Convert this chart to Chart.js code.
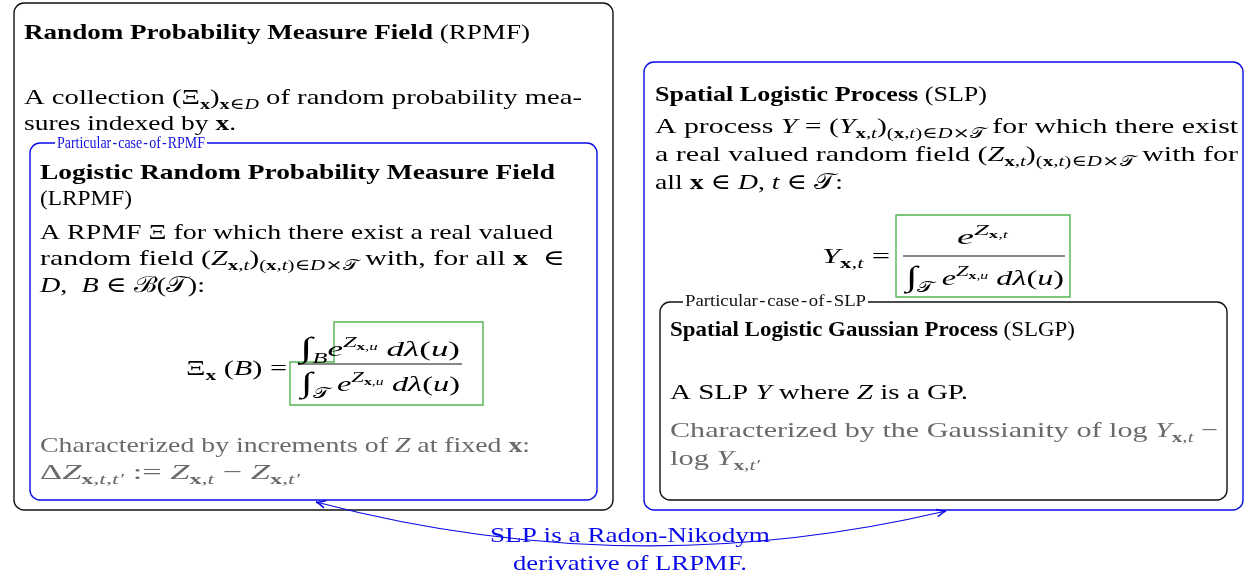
<!DOCTYPE html>
<html><head><meta charset="utf-8">
<script src="https://cdn.jsdelivr.net/npm/chart.js@4.4.0/dist/chart.umd.min.js"></script>
<style>html,body{margin:0;padding:0;background:#fff;overflow:hidden}canvas{display:block}</style>
</head><body>
<canvas id="c" width="1246" height="578"></canvas>
<script>
// ---- text segment helpers ----
const R = t => ({t, f:'r'});
const B = t => ({t, f:'b'});
const I = t => ({t, f:'i'});
const S = t => ({t, f:'s'});
const CT = {t:'𝒯', f:'r'};
const INT = {t:'∫', f:'r', k:1.3, dy:0.06};
const flat = a => a.flat(Infinity);
const sub = (...s) => flat(s).map(g => ({...g, k:0.7*(g.k||1), dy:0.22 + 0.7*(g.dy||0)}));
const subL = (...s) => flat(s).map(g => ({...g, k:0.7*(g.k||1), dy:0.34 + 0.7*(g.dy||0)}));
const sup = (...s) => flat(s).map(g => ({...g, k:0.7*(g.k||1), dy:-0.42 + 0.7*(g.dy||0)}));
const XT = [B('x'), R(','), I('t')];
const XU = [B('x'), R(','), I('u')];
const IDX = [R('('), B('x'), R(','), I('t'), R(')'), S('∈'), I('D'), S('×'), CT];
const EZ = [I('e'), sup(I('Z'), sub(XU))];

// ---- text content ----
const rpmfTitle = [B('Random Probability Measure Field'), R(' (RPMF)')];
const rpmfBody = [
  [R('A collection '), R('('), R('Ξ'), sub(B('x')), R(')'), sub(B('x'), S('∈'), I('D')), R(' of random probability mea-')],
  [R('sures indexed by '), B('x'), R('.')]
];
const lrpmfLabel = 'Particular\u200A-\u200Acase\u200A-\u200Aof\u200A-\u200ARPMF';
const lrpmfTitle = [[B('Logistic Random Probability Measure Field')], [R('(LRPMF)')]];
const lrpmfBody = [
  [R('A RPMF '), R('Ξ'), R(' for which there exist a real valued')],
  [R('random field '), R('('), I('Z'), sub(XT), R(')'), sub(IDX), R(' with, for all '), B('x'), R('  '), S('∈')],
  [I('D'), R(',  '), I('B'), R(' '), S('∈'), R(' '), R('ℬ'), R('('), CT, R('):')]
];
const lrpmfLhs = [R('Ξ'), sub(B('x')), R(' ('), I('B'), R(') =')];
const lrpmfNum = [INT, subL(I('B')), EZ, R(' '), I('d'), I('λ'), R('('), I('u'), R(')')];
const lrpmfDen = [INT, subL(CT), R(' '), EZ, R(' '), I('d'), I('λ'), R('('), I('u'), R(')')];
const lrpmfGray = [
  [R('Characterized by increments of '), I('Z'), R(' at fixed '), B('x'), R(':')],
  [R('Δ'), I('Z'), sub(B('x'), R(','), I('t'), R(','), I('t′')), R(' := '), I('Z'), sub(XT), R(' − '), I('Z'), sub(B('x'), R(','), I('t′'))]
];
const slpTitle = [B('Spatial Logistic Process'), R(' (SLP)')];
const slpBody = [
  [R('A process '), I('Y'), R(' = ('), I('Y'), sub(XT), R(')'), sub(IDX), R(' for which there exist')],
  [R('a real valued random field ('), I('Z'), sub(XT), R(')'), sub(IDX), R(' with for')],
  [R('all '), B('x'), R(' '), S('∈'), R(' '), I('D'), R(', '), I('t'), R(' '), S('∈'), R(' '), CT, R(':')]
];
const slpLhs = [I('Y'), sub(XT), R(' =')];
const slpNum = [I('e'), sup(I('Z'), sub(XT))];
const slpDen = lrpmfDen;
const slgpLabel = 'Particular\u200A-\u200Acase\u200A-\u200Aof\u200A-\u200ASLP';
const slgpTitle = [B('Spatial Logistic Gaussian Process'), R(' (SLGP)')];
const slgpBody = [R('A SLP '), I('Y'), R(' where '), I('Z'), R(' is a GP.')];
const slgpGray = [
  [R('Characterized by the Gaussianity of '), R('log'), R(' '), I('Y'), sub(XT), R(' −')],
  [R('log'), R(' '), I('Y'), sub(B('x'), R(','), I('t′'))]
];
const linkText = ['SLP is a Radon-Nikodym', 'derivative of LRPMF.'];

// ---- layout (diagram coordinates, mapped through the chart scales) ----
const COL = {black:'#111111', blue:'#0a0ae6', green:'#52b552', gray:'#6a6a6a', label:'#1414e0'};
const boxes = [
  {x0:14, y0:3, x1:613, y1:510, r:10, c:COL.black},
  {x0:30, y0:143, x1:597, y1:500, r:10, c:COL.blue},
  {x0:644, y0:62, x1:1243, y1:510, r:10, c:COL.blue},
  {x0:660, y0:302, x1:1227, y1:500, r:10, c:COL.black}
];
const greenLeft = [[290,405],[290,362],[334,362],[334,322],[483,322],[483,405]];
const greenRight = [[896,215],[1070,215],[1070,297],[896,297]];
const labels = [
  {t:lrpmfLabel, x:57, x1:205, y:148, c:COL.label},
  {t:slgpLabel, x:685, x1:866, y:306, c:COL.black}
];
const lines = [
  {s:rpmfTitle, x:24, x1:530, y:39},
  {s:rpmfBody[0], x:24, x1:582, y:104},
  {s:rpmfBody[1], x:24, x1:236, y:130},
  {s:lrpmfTitle[0], x:40, x1:555, y:179},
  {s:lrpmfTitle[1], x:40, x1:132, y:205},
  {s:lrpmfBody[0], x:40, x1:553, y:239},
  {s:lrpmfBody[1], x:40, x1:565, y:265},
  {s:lrpmfBody[2], x:40, x1:205, y:292},
  {s:lrpmfLhs, x:186, x1:287, y:375},
  {s:lrpmfNum, x:300, x1:460, y:356},
  {s:lrpmfDen, x:301, x1:460, y:391},
  {s:lrpmfGray[0], x:40, x1:530, y:452, c:COL.gray},
  {s:lrpmfGray[1], x:40, x1:300, y:479, c:COL.gray},
  {s:slpTitle, x:655, x1:987, y:101},
  {s:slpBody[0], x:655, x1:1238, y:133},
  {s:slpBody[1], x:655, x1:1238, y:161},
  {s:slpBody[2], x:655, x1:843, y:189},
  {s:slpLhs, x:822, x1:890, y:263},
  {s:slpNum, x:957, x1:1008, y:244},
  {s:slpDen, x:906, x1:1064, y:285},
  {s:slgpTitle, x:670, x1:1075, y:336},
  {s:slgpBody, x:670, x1:968, y:399},
  {s:slgpGray[0], x:670, x1:1218, y:437, c:COL.gray},
  {s:slgpGray[1], x:670, x1:760, y:465, c:COL.gray},
  {s:[R(linkText[0])], x:490, x1:770, y:542, c:COL.blue},
  {s:[R(linkText[1])], x:513, x1:747, y:570, c:COL.blue}
];
const fracBars = [[298,462,364],[903,1065,256]];
const link = {p0:[316,502], p1:[631,585], p2:[946,511]};

// ---- drawing ----
const SIZE = 22;
const SERIF = "'Liberation Serif','Times New Roman',serif";
function fontOf(g, size){
  const s = (size*(g.k||1)).toFixed(2) + 'px ';
  if (g.f === 'b') return 'bold ' + s + SERIF;
  if (g.f === 'i') return 'italic ' + s + SERIF;
  if (g.f === 's') return s + "'DejaVu Serif','Liberation Serif',serif";
  return s + SERIF;
}
function drawSegs(ctx, x, x1, y, segs, size, color){
  segs = flat(segs);
  let nat = 0;
  for (const g of segs){ ctx.font = fontOf(g,size); nat += ctx.measureText(g.t).width; }
  const sx = (x1 - x) / nat;
  ctx.save(); ctx.translate(x, y); ctx.scale(sx, 1);
  ctx.fillStyle = color; ctx.textBaseline = 'alphabetic';
  let cx = 0;
  for (const g of segs){
    ctx.font = fontOf(g,size);
    ctx.fillText(g.t, cx, (g.dy||0)*size);
    cx += ctx.measureText(g.t).width;
  }
  ctx.restore();
}
const diagram = {
  id:'diagram',
  beforeDraw(chart){
    const ctx = chart.ctx; ctx.save(); ctx.fillStyle='#fff'; ctx.fillRect(0,0,chart.width,chart.height); ctx.restore();
  },
  afterDraw(chart){
    const ctx = chart.ctx, xs = chart.scales.x, ys = chart.scales.y;
    const X = v => xs.getPixelForValue(v), Y = v => ys.getPixelForValue(v);
    ctx.save();
    ctx.lineJoin = 'round';
    for (const b of boxes){
      ctx.beginPath(); ctx.strokeStyle = b.c; ctx.lineWidth = 1.4;
      ctx.roundRect(X(b.x0), Y(b.y0), X(b.x1)-X(b.x0), Y(b.y1)-Y(b.y0), b.r);
      ctx.stroke();
    }
    for (const poly of [greenLeft, greenRight]){
      ctx.beginPath(); ctx.strokeStyle = COL.green; ctx.lineWidth = 1.4; ctx.lineJoin = 'miter';
      poly.forEach((p,i) => i ? ctx.lineTo(X(p[0]),Y(p[1])) : ctx.moveTo(X(p[0]),Y(p[1])));
      ctx.closePath(); ctx.stroke();
    }
    ctx.strokeStyle = '#111'; ctx.lineWidth = 1.1;
    for (const f of fracBars){ ctx.beginPath(); ctx.moveTo(X(f[0]),Y(f[2])); ctx.lineTo(X(f[1]),Y(f[2])); ctx.stroke(); }
    for (const l of labels){
      ctx.fillStyle = '#fff'; ctx.fillRect(X(l.x)-2, Y(l.y)-14, X(l.x1)-X(l.x)+4, 18);
      drawSegs(ctx, X(l.x), X(l.x1), Y(l.y), [R(l.t)], 16, l.c);
    }
    const [p0,p1,p2] = [link.p0, link.p1, link.p2].map(p => [X(p[0]), Y(p[1])]);
    ctx.strokeStyle = COL.blue; ctx.lineWidth = 1.2;
    ctx.beginPath(); ctx.moveTo(p0[0],p0[1]); ctx.quadraticCurveTo(p1[0],p1[1],p2[0],p2[1]); ctx.stroke();
    const head = (tip, from) => {
      const a = Math.atan2(tip[1]-from[1], tip[0]-from[0]);
      ctx.beginPath();
      for (const s of [-1,1]){
        const bx = tip[0] - 10*Math.cos(a + s*0.38), by = tip[1] - 10*Math.sin(a + s*0.38);
        ctx.moveTo(bx,by);
        ctx.quadraticCurveTo(tip[0]-3*Math.cos(a+s*0.1), tip[1]-3*Math.sin(a+s*0.1), tip[0], tip[1]);
      }
      ctx.lineWidth = 1.4; ctx.stroke();
    };
    head(p0, p1); head(p2, p1);
    for (const l of lines) drawSegs(ctx, X(l.x), X(l.x1), Y(l.y), l.s, SIZE, l.c || '#000');
    ctx.restore();
  }
};
new Chart(document.getElementById('c'), {
  type:'scatter',
  data:{datasets:[{data:[]}]},
  options:{
    responsive:false, animation:false, devicePixelRatio:1,
    layout:{padding:0},
    plugins:{legend:{display:false}, tooltip:{enabled:false}},
    scales:{
      x:{type:'linear', min:0, max:1246, display:false},
      y:{type:'linear', min:0, max:578, reverse:true, display:false}
    }
  },
  plugins:[diagram]
});
</script>
</body></html>
